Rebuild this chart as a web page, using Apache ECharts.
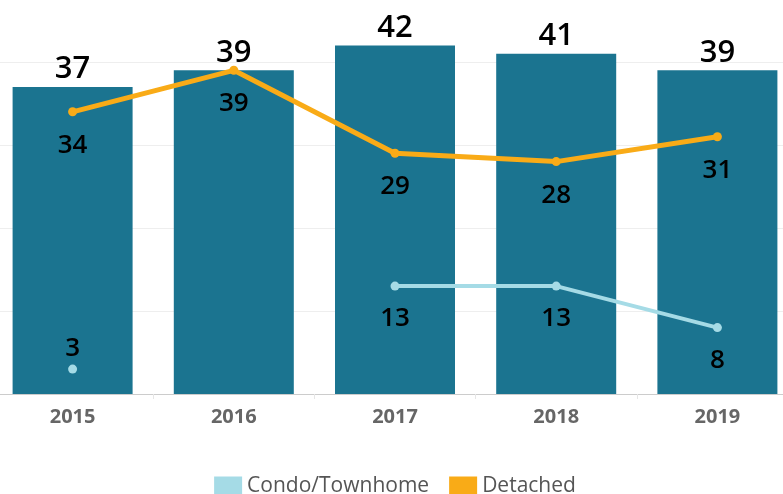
<!DOCTYPE html>
<html>
<head>
<meta charset="utf-8">
<script src="https://cdn.jsdelivr.net/npm/echarts@6/dist/echarts.min.js"></script>
<style>
  html, body { margin: 0; padding: 0; background: #ffffff; overflow: hidden; }
  /* plot area runs slightly past the window edges, like the original */
  #chart { position: absolute; left: -8px; top: -21px; width: 806px; height: 520px; }
</style>
</head>
<body>
<div id="chart"></div>
<script>
  var years = ['2015', '2016', '2017', '2018', '2019'];
  var totals = [37, 39, 42, 41, 39];
  var condo = [3, null, 13, 13, 8];
  var detached = [34, 39, 29, 28, 31];
  // label side for the condo points
  var condoLabelPos = ['top', 'bottom', 'bottom', 'bottom', 'bottom'];

  var font = '"Open Sans", sans-serif';

  var myChart = echarts.init(document.getElementById('chart'));
  var option = {
    animation: false,
    textStyle: { fontFamily: font },
    grid: {
      left: 0,
      right: 0,
      top: 0,
      bottom: 105
    },
    legend: {
      data: ['Condo/Townhome', 'Detached'],
      top: 492,
      left: 'center',
      itemWidth: 28,
      itemHeight: 20,
      itemGap: 20,
      icon: 'rect',
      textStyle: { fontSize: 21, color: '#555555', fontFamily: font }
    },
    xAxis: {
      type: 'category',
      data: years,
      axisLine: { lineStyle: { color: '#cccccc', width: 1 } },
      axisTick: { show: true, length: 5, lineStyle: { color: '#e6e6e6' } },
      axisLabel: {
        margin: 13,
        fontSize: 20,
        fontWeight: 'bold',
        color: '#666666',
        fontFamily: font
      }
    },
    yAxis: {
      type: 'value',
      min: 0,
      max: 50,
      interval: 10,
      axisLabel: { show: false },
      axisLine: { show: false },
      axisTick: { show: false },
      splitLine: { lineStyle: { color: '#eeeeee', width: 1 } }
    },
    series: [
      {
        name: 'Total',
        type: 'bar',
        data: totals,
        barWidth: 120,
        itemStyle: { color: '#1b7490' },
        label: {
          show: true,
          position: 'top',
          distance: 2,
          fontSize: 31,
          fontWeight: 600,
          color: '#000000',
          fontFamily: font
        }
      },
      {
        name: 'Condo/Townhome',
        type: 'line',
        data: condo.map(function (v, i) {
          return {
            value: v,
            label: { position: condoLabelPos[i], distance: i === 0 ? 3 : 15 }
          };
        }),
        connectNulls: false,
        symbol: 'circle',
        symbolSize: 9,
        showSymbol: true,
        itemStyle: { color: '#a5dbe6' },
        lineStyle: { color: '#a5dbe6', width: 4 },
        label: {
          show: true,
          fontSize: 26,
          fontWeight: 600,
          color: '#000000',
          fontFamily: font
        },
        z: 3
      },
      {
        name: 'Detached',
        type: 'line',
        data: detached,
        symbol: 'circle',
        symbolSize: 9,
        showSymbol: true,
        itemStyle: { color: '#f9ab17' },
        lineStyle: { color: '#f9ab17', width: 5 },
        label: {
          show: true,
          position: 'bottom',
          distance: 16,
          fontSize: 26,
          fontWeight: 600,
          color: '#000000',
          fontFamily: font
        },
        z: 4
      }
    ]
  };
  myChart.setOption(option);
</script>
</body>
</html>
